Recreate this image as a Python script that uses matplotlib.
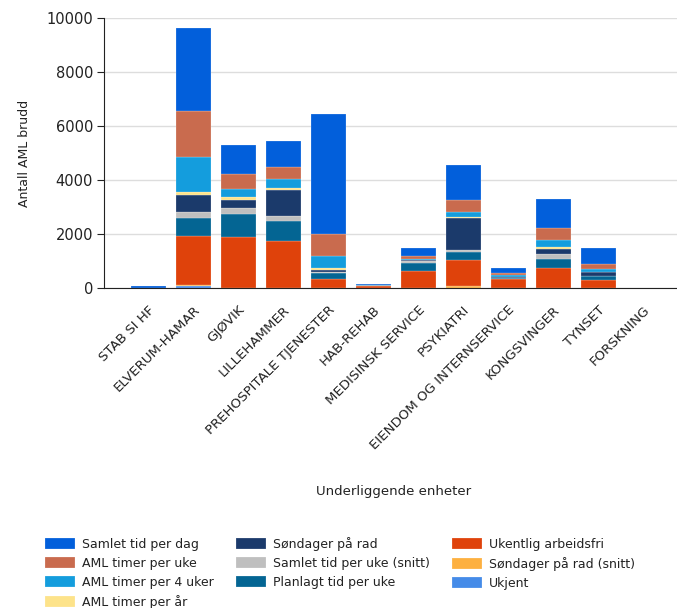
import numpy as np
import matplotlib
matplotlib.use('agg')
import matplotlib.pyplot as plt

plt.rcParams['font.family'] = ['DejaVu Sans']

units = ['STAB SI HF', 'ELVERUM-HAMAR', 'GJØVIK', 'LILLEHAMMER',
         'PREHOSPITALE TJENESTER', 'HAB-REHAB', 'MEDISINSK SERVICE',
         'PSYKIATRI', 'EIENDOM OG INTERNSERVICE', 'KONGSVINGER', 'TYNSET',
         'FORSKNING']

# stacked bottom -> top
ukjent =            [0,   60,   0,    0,    0,    0,  0,    0,    0,   0,    0,   0]
sondager_snitt =    [0,   40,   0,    0,    0,    0,  0,    75,   0,   0,    0,   0]
ukentlig_fri =      [0,   1825, 1876, 1727, 350,  80, 637,  962,  325, 750,  300, 0]
planlagt_uke =      [0,   684,  882,  745,  190,  20, 275,  300,  60,  337,  137, 0]
samlet_uke_snitt =  [0,   198,  199,  186,  40,   0,  75,   63,   0,   163,  0,   0]
sondager_rad =      [0,   646,  310,  982,  100,  0,  50,   1175, 28,  188,  150, 0]
aml_aar =           [0,   100,  87,   49,   50,   0,  0,    50,   0,   63,   0,   0]
aml_4uker =         [0,   1317, 323,  348,  448,  0,  50,   200,  63,  288,  100, 0]
aml_uke =           [0,   1677, 547,  447,  832,  0,  100,  437,  63,  437,  200, 0]
samlet_dag =        [60,  3080, 1080, 969,  4422, 60, 300,  1288, 200, 1087, 600, 0]

series = [
    ('Samlet tid per dag', samlet_dag, '#025fdb'),
    ('AML timer per uke', aml_uke, '#c96b4e'),
    ('AML timer per 4 uker', aml_4uker, '#149ddd'),
    ('AML timer per år', aml_aar, '#fde38a'),
    ('Søndager på rad', sondager_rad, '#1b3a6b'),
    ('Samlet tid per uke (snitt)', samlet_uke_snitt, '#bfbfbf'),
    ('Planlagt tid per uke', planlagt_uke, '#046593'),
    ('Ukentlig arbeidsfri', ukentlig_fri, '#df420b'),
    ('Søndager på rad (snitt)', sondager_snitt, '#fdb040'),
    ('Ukjent', ukjent, '#458be8'),
]

x = np.arange(len(units))
width = 0.78

fig = plt.figure(figsize=(6.77, 6.08), dpi=100)
ax = fig.add_axes([104/677, 1 - 288/608, 1 - 104/677, 270/608])

handles = {}
bottom = np.zeros(len(units))
for name, vals, col in reversed(series):
    vals = np.array(vals, dtype=float)
    h = ax.bar(x, vals, width, bottom=bottom, color=col, label=name,
               edgecolor=(1, 1, 1, 0.5), linewidth=0.3)
    handles[name] = h
    bottom += vals

ax.set_ylim(0, 10000)
ax.set_xlim(-0.98, 11.75)
ax.set_yticks(np.arange(0, 10001, 2000))
ax.yaxis.grid(True, color='#dddddd', linewidth=1)
ax.set_axisbelow(True)
for s in ['top', 'right']:
    ax.spines[s].set_visible(False)
ax.spines['left'].set_color('#222222')
ax.spines['bottom'].set_color('#222222')
ax.tick_params(axis='y', labelsize=10.5, length=5, pad=3, colors='#222222')

ax.set_xticks(x)
ax.set_xticklabels(units, rotation=45, ha='right', rotation_mode='anchor',
                   fontsize=9.6, color='#222222')
ax.tick_params(axis='x', length=0, pad=11)
ax.set_xticks(x[1::2], minor=True)
ax.tick_params(axis='x', which='minor', length=5, color='#222222')

ax.set_ylabel('Antall AML brudd', fontsize=9, labelpad=11, color='#222222')
fig.text(394/677, 1 - 492/608, 'Underliggende enheter', ha='center',
         va='center', fontsize=9.5, color='#222222')

leg = fig.legend([handles[n] for n, _, _ in series], [n for n, _, _ in series],
                 ncol=3, loc='upper left', bbox_to_anchor=(41/677, 1 - 533/608),
                 frameon=False, fontsize=9, handlelength=2.4,
                 handleheight=0.9, labelspacing=0.48, columnspacing=1.8,
                 handletextpad=0.55, borderaxespad=0, borderpad=0.3)
for t in leg.get_texts():
    t.set_color('#222222')

fig.savefig('out.png', dpi=100)
